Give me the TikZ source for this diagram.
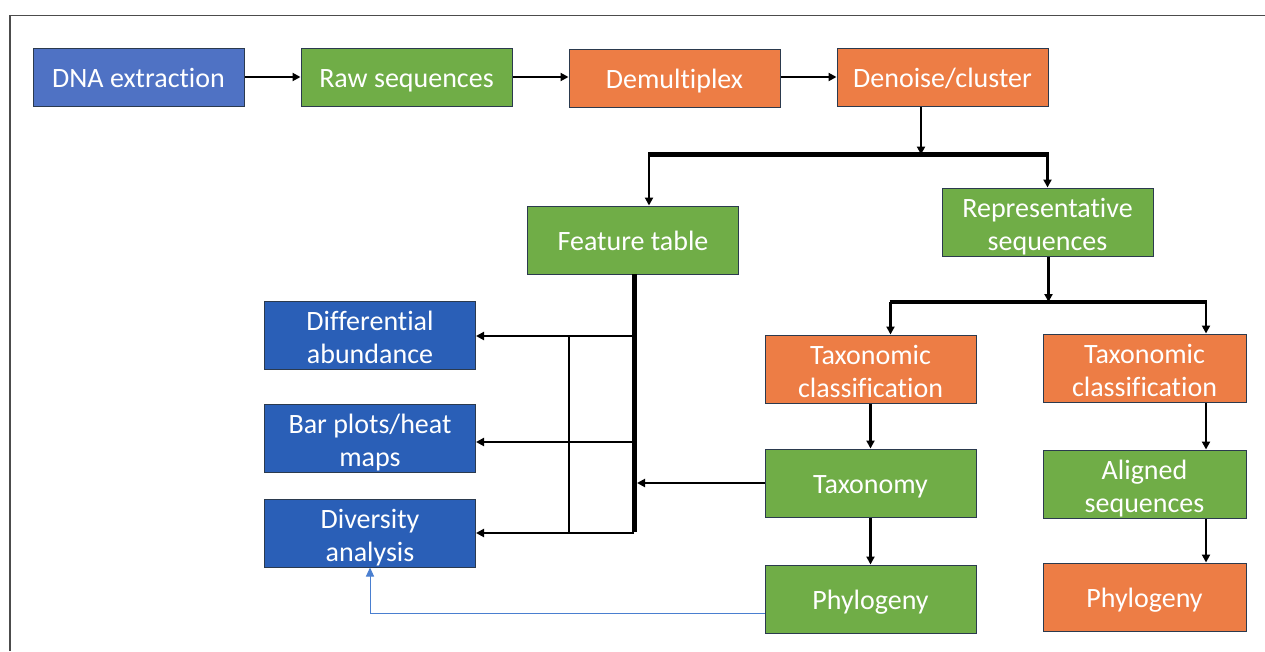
\documentclass[tikz,border=0pt]{standalone}
\usepackage{fontspec}
\setmainfont{Carlito}[Ligatures=CommonOff]
\usetikzlibrary{arrows.meta}
\definecolor{cblue}{HTML}{4F72C4}
\definecolor{dblue}{HTML}{2A5FB7}
\definecolor{cgreen}{HTML}{70AD47}
\definecolor{corange}{HTML}{ED7D45}
\definecolor{cedge}{HTML}{2B3A4E}
\definecolor{linkblue}{HTML}{4A7FD0}
\newcommand{\tstrt}{\rule{0pt}{29pt}}
\tikzset{
  box/.style={draw=cedge, line width=1pt, text=white, align=center,
    minimum width=211pt, minimum height=58pt, inner sep=0pt,
    font=\fontsize{28}{33}\selectfont,
    execute at begin node={\rule{0pt}{26pt}},
    execute at end node={\rule[-6pt]{0pt}{6pt}}},
  tall/.style={minimum height=68pt},
  arr/.style={line width=2.2pt, -{Triangle[length=8pt,width=8pt]}},
  barline/.style={line width=4.5pt},
  thinl/.style={line width=2.2pt},
}
\begin{document}
\begin{tikzpicture}[x=1pt,y=-1pt]
\useasboundingbox (0,0) rectangle (1265,651);
\fill[white] (0,0) rectangle (1265,651);
\draw[line width=1.5pt, black!70] (10,651) -- (10,15.5) -- (1265,15.5);

% top row
\node[box, fill=cblue] (dna) at (138.5,77) {DNA extraction};
\node[box, fill=cgreen] (raw) at (406.5,77) {Raw sequences};
\node[box, fill=corange] (dem) at (674.5,78) {Demultiplex};
\node[box, fill=corange] (den) at (942.5,77) {Denoise/cluster};

% second row
\node[box, tall, fill=cgreen] (ft) at (633,240) {Feature table};
\node[box, tall, fill=cgreen] (rep) at (1047.5,222) {\tstrt Representative\\sequences};

% left outputs
\node[box, tall, fill=dblue] (dif) at (370,335) {\tstrt Differential\\abundance};
\node[box, tall, fill=dblue] (bar) at (370,438) {\tstrt Bar plots/heat\\maps};
\node[box, tall, fill=dblue] (div) at (370,533) {\tstrt Diversity\\analysis};

% middle column
\node[box, tall, fill=corange] (tc1) at (870.5,369) {\tstrt Taxonomic\\classification};
\node[box, tall, fill=cgreen] (tax) at (870.5,483) {Taxonomy};
\node[box, tall, fill=cgreen] (phy) at (870.5,599) {Phylogeny};

% right column
\node[box, tall, fill=corange, minimum width=203pt] (tc2) at (1144.5,368) {\tstrt Taxonomic\\classification};
\node[box, tall, fill=cgreen, minimum width=203pt] (ali) at (1144.5,484) {\tstrt Aligned\\sequences};
\node[box, tall, fill=corange, minimum width=203pt] (phy2) at (1144.5,597) {Phylogeny};

% top row arrows
\draw[arr] (dna) -- (raw);
\draw[arr] (raw) -- (dem.west|-raw);
\draw[arr] (dem.east|-den) -- (den);

% first split
\coordinate (b1l) at (649,154.5);
\coordinate (b1r) at (1047.5,154.5);
\coordinate (b1c) at (921,154.5);
\draw[arr] (b1c|-den.south) -- (b1c);
\draw[barline] ([xshift=-1pt]b1l) -- ([xshift=1pt]b1r);
\draw[arr] (b1l) -- (b1l|-ft.north);
\draw[arr] (b1r) -- (rep.north);

% second split
\coordinate (b2l) at (890.5,302);
\coordinate (b2r) at (1206,302);
\coordinate (b2c) at (1048.5,302);
\draw[arr] (b2c|-rep.south) -- (b2c);
\draw[barline] ([xshift=-1pt]b2l) -- ([xshift=1pt]b2r);
\draw[arr] (b2l) -- (b2l|-tc1.north);
\draw[arr] (b2r) -- (b2r|-tc2.north);

% vertical chains
\coordinate (c1) at (870.5,0);
\draw[arr] (c1|-tc1.south) -- (c1|-tax.north);
\draw[arr] (c1|-tax.south) -- (c1|-phy.north);
\coordinate (c2) at (1206,0);
\draw[arr] (c2|-tc2.south) -- (c2|-ali.north);
\draw[arr] (c2|-ali.south) -- (c2|-phy2.north);

% feature table trunk
\coordinate (t1) at (634,336);
\coordinate (t2) at (634,442);
\coordinate (t3) at (634,533);
\coordinate (tv) at (569,0);
\draw[line width=5pt] (634,274) -- ([yshift=1.2pt]t3);
\draw[arr] (t1) -- (dif.east|-t1);
\draw[arr] (t2) -- (bar.east|-t2);
\draw[arr] (t3) -- (div.east|-t3);
\draw[thinl] (tv|-t1) -- (tv|-t3);
\draw[arr] (tax.west) -- (637,483);

% phylogeny to diversity
\coordinate (pl) at (0,613);
\draw[linkblue, line width=1pt, -{Triangle[length=9pt,width=8pt]}] (phy.west|-pl) -- (div.south|-pl) -- (div.south);
\end{tikzpicture}
\end{document}
